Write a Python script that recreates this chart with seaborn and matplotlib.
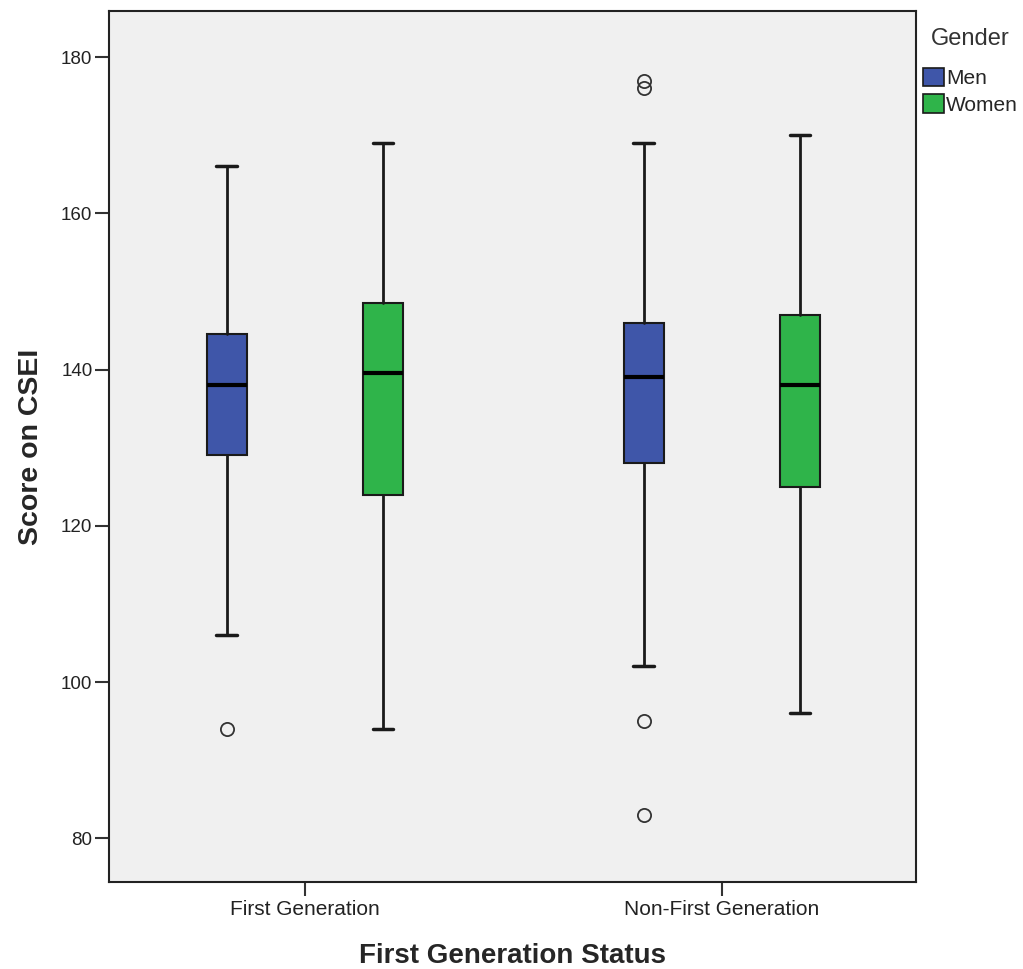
import matplotlib
matplotlib.use("Agg")
import matplotlib.pyplot as plt
from matplotlib.patches import Patch
import seaborn as sns

# summary values
groups = ["First Generation", "Non-First Generation"]
genders = ["Men", "Women"]
whisker_low = {"Men": [106, 102], "Women": [94, 96]}
q1 = {"Men": [129, 128], "Women": [124, 125]}
median = {"Men": [138, 139], "Women": [139.5, 138]}
q3 = {"Men": [144.5, 146], "Women": [148.5, 147]}
whisker_high = {"Men": [166, 169], "Women": [169, 170]}
outliers = {"Men": [[94], [95, 83, 176, 177]], "Women": [[], []]}

sns.set_style("white")
plt.rcParams["font.family"] = ["Liberation Sans", "DejaVu Sans"]
colors = {"Men": "#3F56A9", "Women": "#2FB44A"}

fig = plt.figure(figsize=(10.23, 9.69), dpi=100)
ax = fig.add_axes([0.1066, 0.0898, 0.7888, 0.8988])
ax.set_facecolor("#F0F0F0")

offset = {"Men": -0.188, "Women": 0.187}
for g in genders:
    stats = []
    for i in range(len(groups)):
        stats.append({
            "whislo": whisker_low[g][i], "q1": q1[g][i], "med": median[g][i],
            "q3": q3[g][i], "whishi": whisker_high[g][i], "fliers": outliers[g][i],
        })
    pos = [i + offset[g] for i in range(len(groups))]
    ax.bxp(stats, positions=pos, widths=0.096, capwidths=0.05, patch_artist=True,
           showfliers=True, manage_ticks=False,
           boxprops=dict(facecolor=colors[g], edgecolor="#1a1a1a", linewidth=1.5),
           medianprops=dict(color="black", linewidth=3),
           whiskerprops=dict(color="#1a1a1a", linewidth=2),
           capprops=dict(color="#1a1a1a", linewidth=2.5),
           flierprops=dict(marker="o", markersize=9.5, markerfacecolor="none",
                           markeredgecolor="#333333", markeredgewidth=1.3))

ax.set_xlim(-0.47, 1.465)
ax.set_ylim(74.4, 185.9)
ax.set_xticks(range(len(groups)))
ax.set_xticklabels(groups)
ax.set_yticks([80, 100, 120, 140, 160, 180])
ax.tick_params(axis="both", direction="out", length=10, width=1.5, color="#333333",
               labelcolor="#222222", bottom=True, left=True)
ax.tick_params(axis="x", labelsize=15, pad=3)
ax.tick_params(axis="y", labelsize=13.5, pad=2)
for s in ax.spines.values():
    s.set_color("#222222")
    s.set_linewidth(1.5)

ax.set_ylabel("Score on CSEI", fontsize=20.5, fontweight="bold", labelpad=12)
ax.set_xlabel("First Generation Status", fontsize=20, fontweight="bold", labelpad=17)

handles = [Patch(facecolor=colors[g], edgecolor="#1a1a1a", linewidth=1.2) for g in genders]
leg = fig.legend(handles, genders, title="Gender", loc="upper left",
                 bbox_to_anchor=(0.894, 0.98), frameon=False, fontsize=15,
                 title_fontsize=17, handlelength=1.0, handleheight=1.0,
                 handletextpad=0.12, labelspacing=0.3, borderaxespad=0)
leg.get_title().set_color("#333333")
leg._legend_box.sep = 13

fig.savefig("out.png", dpi=100, facecolor="white")
